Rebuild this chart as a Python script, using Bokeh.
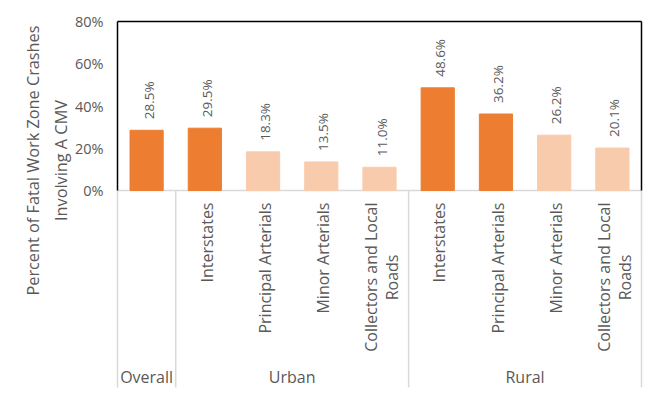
import math
from bokeh.plotting import figure
from bokeh.models import ColumnDataSource, Range1d
from bokeh.core.properties import value
from bokeh.embed import file_html
from bokeh.resources import INLINE

# ---- data ----
groups = ["Overall", "Urban", "Rural"]
group_members = [1, 4, 4]
categories = ["", "Interstates", "Principal Arterials", "Minor Arterials",
              "Collectors and Local\nRoads",
              "Interstates", "Principal Arterials", "Minor Arterials",
              "Collectors and Local\nRoads"]
values = [28.5, 29.5, 18.3, 13.5, 11.0, 48.6, 36.2, 26.2, 20.1]
dark_bars = [True, True, False, False, False, True, True, False, False]
y_ticks = [0, 20, 40, 60, 80]
y_tick_labels = ["0%", "20%", "40%", "60%", "80%"]
y_title = "Percent of Fatal Work Zone Crashes\nInvolving A CMV"

# ---- style ----
DARK = "#ED7D31"
LIGHT = "#F8CBAD"
TXT = "#595959"
SEP = "#D9D9D9"
FONT = "Open Sans"

n = len(categories)
y_max = y_ticks[-1]

# whole canvas is the frame; ranges place the bar area where the reference has it
p = figure(width=655, height=390, x_range=Range1d(-2.0096, n + 0.2405),
           y_range=Range1d(-94.67, y_max + 9.94),
           output_backend="svg", toolbar_location=None,
           x_axis_location=None, y_axis_location=None,
           min_border=0)
p.outline_line_color = None
p.xgrid.visible = False
p.ygrid.visible = False

xs = [i + 0.5 for i in range(n)]
src = ColumnDataSource(dict(
    x=xs, top=values,
    color=[DARK if d else LIGHT for d in dark_bars],
    lab=[f"{v:.1f}%" for v in values],
))

# separators and axis line (gray)
bounds = [0]
for m in group_members:
    bounds.append(bounds[-1] + m)
sep_bottom = -93.2
p.segment(x0=bounds, y0=[0] * len(bounds), x1=bounds, y1=[sep_bottom] * len(bounds),
          line_color=SEP, line_width=1.5)
p.segment(x0=[0], y0=[0], x1=[n], y1=[0], line_color=SEP, line_width=1.5)

p.vbar(x="x", top="top", bottom=0, width=0.57, color="color", source=src)

# black box around the plot area
p.segment(x0=[0, 0, n], y0=[0, y_max, y_max], x1=[0, n, n], y1=[y_max, y_max, 0],
          line_color="black", line_width=1.5)

# y tick labels
p.text(x=[0] * len(y_ticks), y=y_ticks, text=y_tick_labels, x_offset=-14,
       text_align="right", text_baseline="middle",
       text_color=TXT, text_font=value(FONT), text_font_size="14.5px")

# value labels
p.text(x="x", y="top", text="lab", source=src, angle=math.pi / 2,
       text_align="left", text_baseline="middle", y_offset=-11, x_offset=2,
       text_color=TXT, text_font=value(FONT), text_font_size="13.5px")

# category labels (second line of a two-line label centred under the first)
cx, cy, ct, cyo = [], [], [], []
for i, c in enumerate(categories):
    lines = c.split("\n")
    if len(lines) == 1:
        cx.append(xs[i] + 0.03); ct.append(c); cyo.append(12)
    else:
        cx.append(xs[i] - 0.14); ct.append(lines[0]); cyo.append(12)
        cx.append(xs[i] + 0.22); ct.append(lines[1]); cyo.append(64)
    cy.extend([0] * len(lines))
p.text(x=cx, y=cy, text=ct, y_offset=cyo, angle=math.pi / 2,
       text_align="right", text_baseline="middle",
       text_color=TXT, text_font=value(FONT), text_font_size="16px")

# group labels
gx = [(bounds[k] + bounds[k + 1]) / 2 for k in range(len(groups))]
p.text(x=gx, y=[0] * len(groups), text=groups, y_offset=186,
       text_align="center", text_baseline="middle",
       text_color=TXT, text_font=value(FONT), text_font_size="16px")

# y axis title
p.text(x=[-1.211], y=[14.2], text=[y_title], angle=math.pi / 2,
       text_align="center", text_baseline="middle", text_line_height=1.3,
       text_color=TXT, text_font=value(FONT), text_font_size="16.3px")

open("out.html", "w").write(file_html(p, INLINE))
